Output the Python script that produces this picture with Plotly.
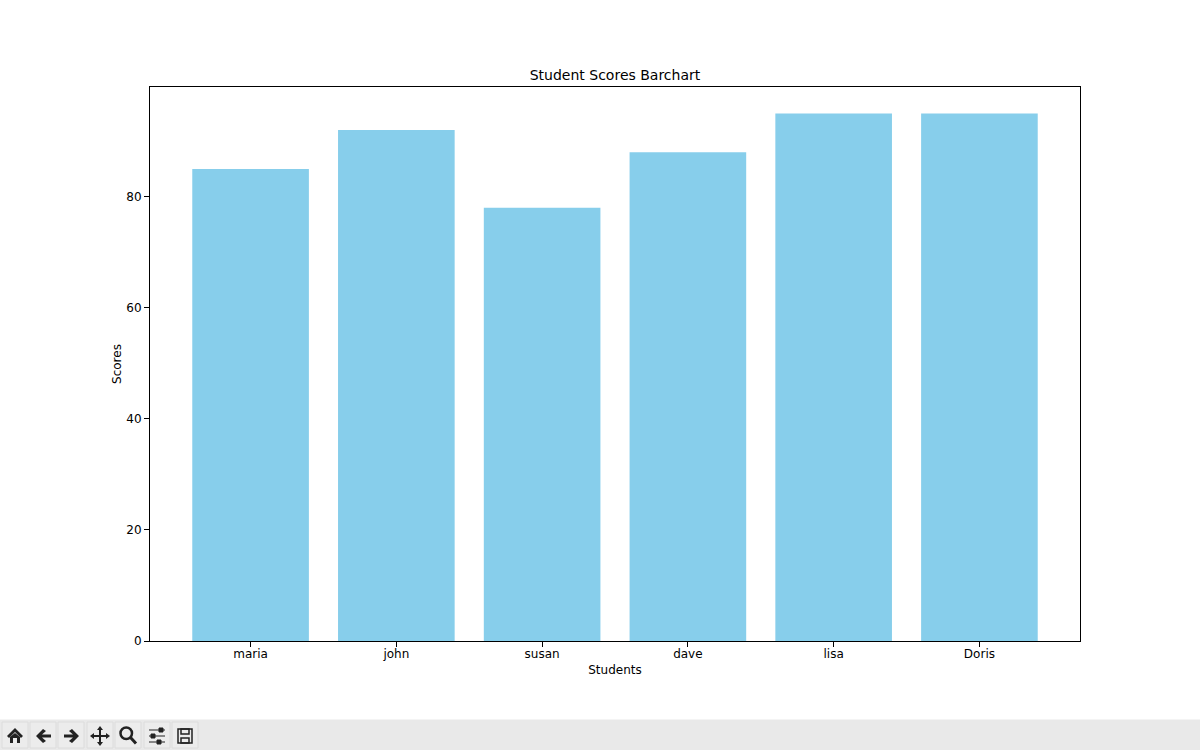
import plotly.graph_objects as go

# 学生成绩
students = ['maria', 'john', 'susan', 'dave', 'lisa', 'Doris']
scores = [85, 92, 78, 88, 95, 95]
y_ticks = [0, 20, 40, 60, 80]

W, H = 1200, 750
L, R, T, B = 150, 1080, 87, 641  # 绘图区的像素边界


def px(x):
    return (x - L) / (R - L)


def py(y):
    return (B - y) / (B - T)


def icon_path(points):
    # 像素坐标转为 paper 坐标
    return 'M' + ' L'.join(f'{px(x):.5f},{py(y):.5f}' for x, y in points) + ' Z'


def rect_shape(x0, y0, x1, y1, fill, line=None, width=1):
    return dict(type='rect', xref='paper', yref='paper', layer='above',
                x0=px(x0), y0=py(y0), x1=px(x1), y1=py(y1), fillcolor=fill,
                line=dict(color=line or fill, width=width))


def poly_shape(points, fill='#222222'):
    return dict(type='path', xref='paper', yref='paper', layer='above',
                path=icon_path(points), fillcolor=fill, line=dict(width=0))


def line_shape(x0, y0, x1, y1, width=2, color='#222222'):
    return dict(type='line', xref='paper', yref='paper', layer='above',
                x0=px(x0), y0=py(y0), x1=px(x1), y1=py(y1),
                line=dict(color=color, width=width))


def circle_shape(x0, y0, x1, y1, width=2.5):
    return dict(type='circle', xref='paper', yref='paper', layer='above',
                x0=px(x0), y0=py(y0), x1=px(x1), y1=py(y1),
                fillcolor='rgba(0,0,0,0)', line=dict(color='#222222', width=width))


# 底部工具栏
shapes = [rect_shape(0, 720, W, H, '#e9e9e9')]
for cx in [15, 43, 71, 100, 128, 157, 185]:
    shapes.append(rect_shape(cx - 13, 722, cx + 13, 748, '#ececec', '#dcdcdc'))

# home
shapes.append(poly_shape([(7, 736), (15, 728), (23, 736), (21, 738), (15, 732), (9, 738)]))
shapes.append(poly_shape([(10, 737), (15, 733), (20, 737), (20, 743), (17, 743), (17, 738),
                          (13, 738), (13, 743), (10, 743)]))
# back
shapes.append(poly_shape([(36, 736), (43, 729), (46, 731), (42, 734.5), (51, 734.5), (51, 737.5),
                          (42, 737.5), (46, 741), (43, 743)]))
# forward
shapes.append(poly_shape([(79, 736), (72, 729), (69, 731), (73, 734.5), (64, 734.5), (64, 737.5),
                          (73, 737.5), (69, 741), (72, 743)]))
# move
shapes.append(line_shape(92, 736, 108, 736))
shapes.append(line_shape(100, 728, 100, 744))
shapes.append(poly_shape([(100, 726), (103, 730), (97, 730)]))
shapes.append(poly_shape([(100, 746), (103, 742), (97, 742)]))
shapes.append(poly_shape([(90, 736), (94, 733), (94, 739)]))
shapes.append(poly_shape([(110, 736), (106, 733), (106, 739)]))
# zoom
shapes.append(circle_shape(120.5, 727.5, 132, 739))
shapes.append(line_shape(130.5, 737.5, 136, 743.5, width=3))
# configure
for y, mark in [(730, 161), (736, 153), (742, 159)]:
    shapes.append(line_shape(149, y, 165, y, width=1))
    shapes.append(rect_shape(mark - 2, y - 2, mark + 2, y + 2, '#222222'))
# save
shapes.append(rect_shape(178, 729, 192, 743, 'rgba(0,0,0,0)', '#222222', 1.5))
shapes.append(rect_shape(181, 729, 189, 734, 'rgba(0,0,0,0)', '#222222', 1.5))
shapes.append(rect_shape(181, 738, 189, 743, 'rgba(0,0,0,0)', '#222222', 1.5))

fig = go.Figure(data=[go.Bar(x=students, y=scores, marker=dict(color='skyblue', line=dict(width=0)))])

axis_font = dict(family='DejaVu Sans', size=12, color='black')

fig.update_layout(
    title=dict(text='Student Scores Barchart', x=(L + R) / 2 / W, xanchor='center',
               y=1 - 75 / H, yanchor='middle', font=dict(family='DejaVu Sans', size=14, color='black')),
    width=W,
    height=H,
    margin=dict(l=L, r=W - R, t=T, b=H - B, pad=0),
    paper_bgcolor='white',
    plot_bgcolor='white',
    bargap=0.2,
    showlegend=False,
    shapes=shapes,
    font=axis_font,
    xaxis=dict(
        title=dict(text='Students', font=axis_font, standoff=5),
        range=[-0.69, 5.69],
        tickfont=axis_font,
        ticklabelstandoff=-3,
        ticks='outside', ticklen=5, tickcolor='black', tickwidth=1,
        showline=True, linecolor='black', linewidth=1, mirror=True,
        showgrid=False, zeroline=False,
    ),
    yaxis=dict(
        title=dict(text='Scores', font=axis_font, standoff=2),
        range=[0, 99.75],
        tickmode='array',
        tickvals=y_ticks,
        tickfont=axis_font,
        ticks='outside', ticklen=5, tickcolor='black', tickwidth=1,
        showline=True, linecolor='black', linewidth=1, mirror=True,
        showgrid=False, zeroline=False,
    ),
)

fig.write_html("out.html", config=dict(displayModeBar=False),
               post_script="document.body.style.margin='0';document.body.style.overflow='hidden';")
